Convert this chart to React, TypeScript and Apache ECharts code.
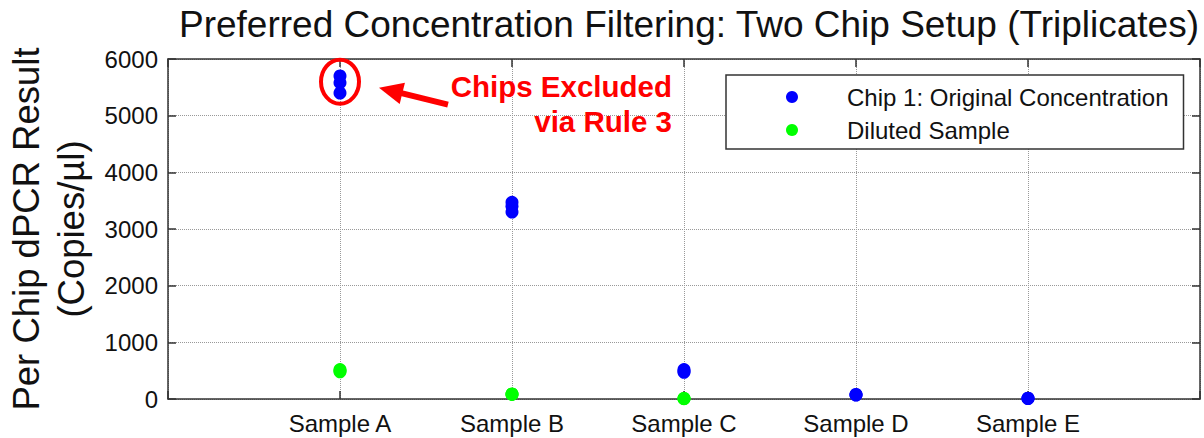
import React, { useEffect, useRef } from "react";
import * as echarts from "echarts";

const categories: string[] = ["Sample A", "Sample B", "Sample C", "Sample D", "Sample E"];
const chipValues: number[][] = [
  [5700, 5580, 5400],
  [3470, 3400, 3300],
  [520, 490, 470],
  [80, 75, 70],
  [15, 10, 8],
];
const dilutedValues: number[][] = [
  [520, 500, 480],
  [90, 85, 80],
  [10, 8, 5],
  [],
  [],
];
const yTicks = { min: 0, max: 6000, interval: 1000 };
const titleText = "Preferred Concentration Filtering: Two Chip Setup (Triplicates)";
const seriesNames = ["Chip 1: Original Concentration", "Diluted Sample"];
const annotationLines = ["Chips Excluded", "via Rule 3"];

const FONT = "'Liberation Sans', Arial, sans-serif";

function toPoints(vals: number[][]): number[][] {
  const out: number[][] = [];
  vals.forEach((arr, i) => arr.forEach((v) => out.push([i + 1, v])));
  return out;
}

export default function App() {
  const ref = useRef<HTMLDivElement>(null);
  useEffect(() => {
    document.body.style.margin = "0";
    if (!ref.current) return;
    const chart = echarts.init(ref.current, undefined, { renderer: "svg" });
    const mkLine = () => ({ show: true, onZero: false, lineStyle: { color: "#333", width: 1.5 } });
    const mkSplit = () => ({ show: true, lineStyle: { color: "#999", type: "dotted" as any, width: 1 } });
    const mkTick = () => ({ show: true, inside: true, length: 8, lineStyle: { color: "#333", width: 1.5 } });
    chart.setOption({
      animation: false,
      title: {
        text: titleText,
        left: 684,
        top: 1,
        textAlign: "center",
        textStyle: { fontFamily: FONT, fontSize: 37, fontWeight: "normal", color: "#111" },
      },
      grid: { left: 168, right: 4, top: 59, bottom: 39, containLabel: false, outerBoundsMode: "none" },
      legend: {
        orient: "vertical",
        left: 726,
        top: 75,
        backgroundColor: "#fff",
        borderColor: "#333",
        borderWidth: 1.5,
        borderRadius: 0,
        padding: [10, 15, 7, 60],
        itemWidth: 100,
        itemHeight: 12,
        itemGap: 9,
        icon: "circle",
        selectedMode: false,
        data: seriesNames,
        textStyle: { fontFamily: FONT, fontSize: 24, lineHeight: 24, color: "#111" },
      },
      xAxis: [
        {
          type: "value",
          min: 0,
          max: 6,
          interval: 1,
          axisLine: mkLine(),
          axisTick: mkTick(),
          splitLine: mkSplit(),
          axisLabel: {
            margin: 12,
            fontFamily: FONT,
            fontSize: 24,
            color: "#111",
            formatter: (v: number) => categories[v - 1] ?? "",
          },
        },
        {
          type: "value",
          position: "top",
          min: 0,
          max: 6,
          interval: 1,
          axisLine: mkLine(),
          axisTick: mkTick(),
          splitLine: { show: false },
          axisLabel: { show: false },
        },
      ],
      yAxis: [
        {
          type: "value",
          min: yTicks.min,
          max: yTicks.max,
          interval: yTicks.interval,
          axisLine: mkLine(),
          axisTick: mkTick(),
          splitLine: mkSplit(),
          axisLabel: {
            margin: 10,
            fontFamily: FONT,
            fontSize: 24,
            color: "#111",
            formatter: (v: number) => String(v),
          },
          name: "Per Chip dPCR Result\n(Copies/µl)",
          nameLocation: "middle",
          nameGap: 74,
          nameTextStyle: { fontFamily: FONT, fontSize: 36.5, lineHeight: 45, color: "#111" },
        },
        {
          type: "value",
          position: "right",
          min: yTicks.min,
          max: yTicks.max,
          interval: yTicks.interval,
          axisLine: mkLine(),
          axisTick: mkTick(),
          splitLine: { show: false },
          axisLabel: { show: false },
        },
      ],
      series: [
        {
          name: seriesNames[0],
          type: "scatter",
          symbol: "circle",
          symbolSize: 13,
          itemStyle: { color: "#0000ff", opacity: 1 },
          data: toPoints(chipValues),
          z: 3,
        },
        {
          name: seriesNames[1],
          type: "scatter",
          symbol: "circle",
          symbolSize: 13,
          itemStyle: { color: "#00ff00", opacity: 1 },
          data: toPoints(dilutedValues),
          z: 4,
        },
      ],
    });

    // Annotation anchored to Sample A's excluded chips
    const c = chart.convertToPixel({ xAxisIndex: 0, yAxisIndex: 0 }, [1, 5600]) as number[];
    const cx = c[0];
    const cy = c[1];
    const tip = [cx + 39, cy + 6];
    const tail = [cx + 108, cy + 23];
    const dx = tip[0] - tail[0];
    const dy = tip[1] - tail[1];
    const len = Math.hypot(dx, dy);
    const ux = dx / len;
    const uy = dy / len;
    const px = -uy;
    const py = ux;
    const headLen = 24;
    const halfW = 11;
    const base = [tip[0] - ux * headLen, tip[1] - uy * headLen];
    const red = "#ff0000";
    const textStyle = {
      align: "right",
      verticalAlign: "middle",
      fill: red,
      fontFamily: FONT,
      fontSize: 29.5,
      fontWeight: "bold",
    };
    chart.setOption({
      graphic: [
        {
          type: "ellipse",
          shape: { cx, cy, rx: 19, ry: 22 },
          style: { fill: "none", stroke: red, lineWidth: 4 },
          z: 10,
        },
        {
          type: "line",
          shape: { x1: tail[0], y1: tail[1], x2: base[0] + ux * 2, y2: base[1] + uy * 2 },
          style: { stroke: red, lineWidth: 6 },
          z: 10,
        },
        {
          type: "polygon",
          shape: {
            points: [
              tip,
              [base[0] + px * halfW, base[1] + py * halfW],
              [base[0] - px * halfW, base[1] - py * halfW],
            ],
          },
          style: { fill: red },
          z: 10,
        },
        {
          type: "text",
          x: 672,
          y: cy + 5,
          style: { ...textStyle, text: annotationLines[0] },
          z: 10,
        },
        {
          type: "text",
          x: 672,
          y: cy + 40,
          style: { ...textStyle, text: annotationLines[1] },
          z: 10,
        },
      ],
    });
    return () => chart.dispose();
  }, []);
  return <div ref={ref} style={{ width: 1204, height: 438, background: "#fff" }} />;
}
